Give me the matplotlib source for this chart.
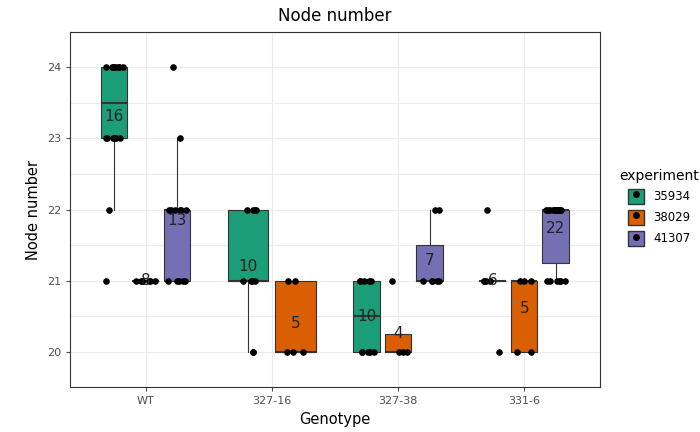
import numpy as np
import matplotlib.pyplot as plt
from matplotlib.patches import Patch
from matplotlib.lines import Line2D
from matplotlib.legend_handler import HandlerTuple

genotypes = ['WT', '327-16', '327-38', '331-6']
experiments = ['35934', '38029', '41307']
colors = ['#1B9E77', '#D95F02', '#7570B3']

data = {
    ('WT', '35934'): [21, 22] + [23] * 6 + [24] * 8,
    ('WT', '38029'): [21] * 8,
    ('WT', '41307'): [21] * 5 + [22] * 6 + [23, 24],
    ('327-16', '35934'): [20] * 2 + [21] * 4 + [22] * 4,
    ('327-16', '38029'): [20] * 3 + [21] * 2,
    ('327-38', '35934'): [20] * 5 + [21] * 5,
    ('327-38', '38029'): [20] * 3 + [21],
    ('327-38', '41307'): [21] * 5 + [22] * 2,
    ('331-6', '35934'): [20] + [21] * 4 + [22],
    ('331-6', '38029'): [20] * 2 + [21] * 3,
    ('331-6', '41307'): [21] * 6 + [22] * 16,
}

fig = plt.figure(figsize=(7, 4.32), dpi=100)
ax = fig.add_axes([0.1, 0.104, 0.757, 0.822])
rng = np.random.default_rng(3)

for gi, g in enumerate(genotypes):
    present = [e for e in experiments if (g, e) in data]
    n = len(present)
    w = 0.75 / n
    for k, e in enumerate(present):
        vals = np.array(data[(g, e)])
        pos = gi - 0.375 + w * (k + 0.5)
        c = colors[experiments.index(e)]
        ax.boxplot(vals, positions=[pos], widths=w * (0.85 if n == 2 else 0.84),
                   patch_artist=True, manage_ticks=False,
                   showfliers=False, whis=1.5, showcaps=False,
                   boxprops=dict(facecolor=c, edgecolor='#333333', linewidth=0.8),
                   medianprops=dict(color='#333333', linewidth=1.5),
                   whiskerprops=dict(color='#333333', linewidth=0.8), zorder=2)
        jx = pos + rng.uniform(-0.08, 0.08, len(vals))
        ax.scatter(jx, vals, s=14, color='black', zorder=3)
        ax.text(pos, vals.mean(), str(len(vals)), ha='center', va='center',
                fontsize=11, color='#222222', zorder=4)

ax.set_xticks(range(len(genotypes)))
ax.set_xticklabels(genotypes)
ax.set_xlim(-0.6, 3.6)
ax.set_ylim(19.8, 24.2)
ax.set_yticks([20, 21, 22, 23, 24])
ax.set_yticks(np.arange(19.5, 24.6, 0.5), minor=True)
ax.grid(True, which='both', color='#EBEBEB', linewidth=0.8)
ax.set_axisbelow(True)
for s in ax.spines.values():
    s.set_color('#333333')
ax.tick_params(colors='#4D4D4D', labelsize=8, length=3)
ax.tick_params(which='minor', length=0)
ax.set_xlabel('Genotype', fontsize=10.5)
ax.set_ylabel('Node number', fontsize=10.5)
ax.set_title('Node number', fontsize=12, pad=8)

handles = [(Patch(facecolor=c, edgecolor='#333333'),
            Line2D([], [], marker='o', color='black', linestyle='', markersize=4))
           for c in colors]
fig.legend(handles, experiments, title='experiment', loc='center left',
           bbox_to_anchor=(0.87, 0.52), frameon=False, fontsize=8.5,
           title_fontsize=10, handlelength=1.3, handleheight=1.6,
           handler_map={tuple: HandlerTuple(ndivide=None, pad=-1.3)})

fig.savefig('out.png')
